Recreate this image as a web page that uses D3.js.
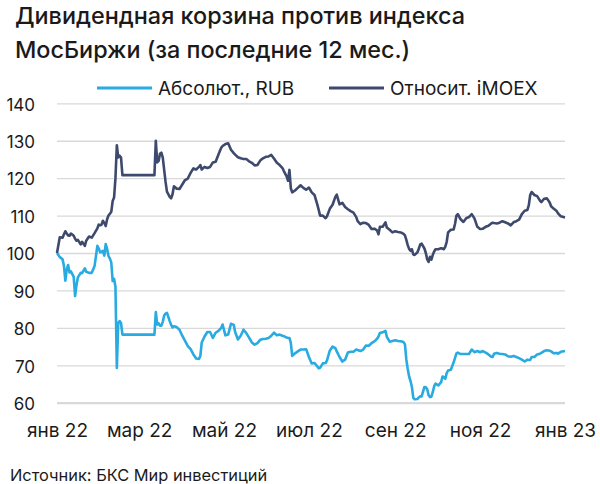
<!DOCTYPE html>
<html>
<head>
<meta charset="utf-8">
<script src="https://cdn.jsdelivr.net/npm/d3@7"></script>
<style>
  body { margin: 0; background: #fff; }
  text { font-family: Inter, Roboto, "Liberation Sans", Arial, sans-serif; fill: #1a1a1a; }
</style>
</head>
<body>
<div class="chart"></div>
<script>
// dates of the points, grouped by month
var dates = [
  "2022-01-10","2022-01-12","2022-01-14","2022-01-15","2022-01-16","2022-01-17","2022-01-18","2022-01-19","2022-01-20","2022-01-22","2022-01-23","2022-01-24","2022-01-25","2022-01-27","2022-01-28","2022-01-30","2022-01-31",
  "2022-02-02","2022-02-04","2022-02-06","2022-02-08","2022-02-09","2022-02-10","2022-02-11","2022-02-12","2022-02-13","2022-02-14","2022-02-15","2022-02-16","2022-02-17","2022-02-18","2022-02-19","2022-02-20","2022-02-21","2022-02-22","2022-02-23","2022-02-24","2022-02-25","2022-02-26",
  "2022-03-21","2022-03-22","2022-03-23","2022-03-24","2022-03-25","2022-03-26","2022-03-27","2022-03-28","2022-03-29","2022-03-30",
  "2022-04-01","2022-04-02","2022-04-03","2022-04-04","2022-04-06","2022-04-08","2022-04-10","2022-04-12","2022-04-14","2022-04-16","2022-04-18","2022-04-20","2022-04-22","2022-04-23","2022-04-24","2022-04-26","2022-04-28","2022-04-30",
  "2022-05-02","2022-05-04","2022-05-06","2022-05-08","2022-05-09","2022-05-11","2022-05-13","2022-05-15","2022-05-17","2022-05-18","2022-05-20","2022-05-22","2022-05-24","2022-05-26","2022-05-28","2022-05-30",
  "2022-06-01","2022-06-03","2022-06-05","2022-06-07","2022-06-09","2022-06-11","2022-06-13","2022-06-15","2022-06-17","2022-06-19","2022-06-21","2022-06-22","2022-06-24","2022-06-25","2022-06-26","2022-06-27","2022-06-28","2022-06-30",
  "2022-07-02","2022-07-04","2022-07-06","2022-07-08","2022-07-10","2022-07-12","2022-07-14","2022-07-16","2022-07-17","2022-07-18","2022-07-20","2022-07-22","2022-07-23","2022-07-25","2022-07-27","2022-07-29","2022-07-30",
  "2022-08-01","2022-08-03","2022-08-05","2022-08-07","2022-08-09","2022-08-11","2022-08-13","2022-08-14","2022-08-16","2022-08-18","2022-08-20","2022-08-22","2022-08-24","2022-08-26","2022-08-27","2022-08-28","2022-08-29","2022-08-30",
  "2022-09-01","2022-09-03","2022-09-04","2022-09-06","2022-09-08","2022-09-10","2022-09-12","2022-09-14","2022-09-16","2022-09-17","2022-09-18","2022-09-19","2022-09-20","2022-09-21","2022-09-22","2022-09-23","2022-09-24","2022-09-26","2022-09-27","2022-09-28","2022-09-29",
  "2022-10-01","2022-10-02","2022-10-03","2022-10-04","2022-10-05","2022-10-06","2022-10-07","2022-10-08","2022-10-09","2022-10-11","2022-10-13","2022-10-14","2022-10-15","2022-10-16","2022-10-17","2022-10-18","2022-10-20","2022-10-22","2022-10-23","2022-10-24","2022-10-25","2022-10-27","2022-10-29","2022-10-31",
  "2022-11-02","2022-11-04","2022-11-06","2022-11-08","2022-11-10","2022-11-12","2022-11-14","2022-11-16","2022-11-18","2022-11-19","2022-11-20","2022-11-22","2022-11-24","2022-11-26","2022-11-28","2022-11-30",
  "2022-12-02","2022-12-04","2022-12-06","2022-12-08","2022-12-10","2022-12-12","2022-12-14","2022-12-15","2022-12-16","2022-12-17","2022-12-19","2022-12-21","2022-12-23","2022-12-24","2022-12-26","2022-12-28","2022-12-30","2022-12-31",
  "2023-01-02","2023-01-04","2023-01-05","2023-01-07","2023-01-10"
];

// "Абсолют., RUB"
var absValues = [
  100,98.9,98.3,96.5,92.6,95.6,96.8,94.8,95.1,93.6,88.5,91.4,93.5,94.7,94.6,95.9,95.0,
  94.7,94.7,96.5,101.9,101.2,100.2,100.3,100.6,99.3,102.4,101.1,99.2,98.5,97.5,92.5,93.1,91,69.3,81.3,81.8,81.3,78.2,
  78.2,84.2,80.9,81.2,80.6,80.6,81.6,83.3,83.8,84,
  81.8,80.8,80.1,80.4,80.2,79.5,77.9,76.5,75.1,74.3,72.9,71.8,71.7,72.5,76.1,77.7,78.9,78.9,
  77.3,78.7,79.2,80,80.9,78.0,78.2,81.1,80.8,78.9,76.9,77.9,79.5,78.6,77.4,76.1,
  75.5,75.9,76.8,77,77.1,77.3,77.9,78.7,78,78.2,77.9,77.8,77.4,77.3,77.3,76,72.5,73.2,
  73.7,74.2,74.2,74.3,72.2,70.5,70.6,69.7,69.2,69.3,70.5,70.6,71.3,73.9,75,74.6,73.7,
  72.2,71,71.5,73.4,73.6,73.6,74.2,74.1,73.8,74.2,75.3,75.2,75.9,76.4,76.7,77.1,77.7,78.6,
  78.8,79.2,77.6,76.3,76.5,76.7,76.5,76.4,76.2,75.6,71.5,69,67,65.8,64.2,61.3,60.9,61,61.4,61.7,61.7,
  64.2,64.1,63.6,62,61.5,61.6,62.8,64.4,65.1,64.6,65.5,67,66.8,66.4,67.9,68.6,68.8,70.8,72,73.2,73.4,73,73,73,
  73,74.2,73.5,73.8,73.5,73.8,73.4,72.9,72.3,72.2,73.1,73.3,73.1,73,72.9,72.4,
  72.3,72.5,72.2,71.9,71.5,71,71.5,71.4,71.4,72.2,72.2,72.9,73.1,73.3,73.8,74,73.9,73.7,
  73.2,73.3,73.1,73.6,73.8
];

// "Относит. iMOEX"
var relValues = [
  100,104.2,104.1,105,105.8,105.2,104.7,104.6,105.2,104.6,103.8,103.3,103.5,102.3,103,101.9,103.3,
  104.4,104.1,105.3,106.6,107.6,107.4,107.6,108.6,108,107.2,109,110,110.5,111,113.9,114.8,120,128.8,125.5,126,125.5,120.8,
  120.8,130,124.2,124.6,126.5,126.8,125.5,122.2,119,116.4,
  115.0,114.6,115.7,117.8,117.2,117.1,118.3,119.5,119.9,121.4,122.6,122.3,123,123.5,122.3,123,122.7,123,
  124.2,124.4,126.3,128.1,128.6,129.1,129.3,127.6,126.7,126.3,125.6,125.3,125.1,125.1,124.5,124.1,
  123.4,123.5,124.7,125.3,125.7,125.8,126.2,125.2,124.1,123.5,122.7,121.9,120.5,119.3,122.2,117.3,116.2,116.7,
  117.4,118.1,117.4,116.9,117.5,116.2,115.5,113,111.6,110,110,109.3,109.8,111.8,112.9,115,115.6,
  113,113.4,112.3,111.7,111.2,110.8,109.6,108.5,107.7,108.1,108,107.5,106.4,106.5,106.3,106,105,107,
  107,108.2,106.8,106.2,105.5,105.8,105.6,105.5,105.1,104.7,103.5,102.1,101.1,100.6,101,99.6,99.5,100.2,101.2,102.3,102.5,
  101.2,100,98.3,97.6,99,98.2,99.5,100.4,101,101,101.3,101.2,101,101.7,103,105.5,106.2,106.3,107.8,110,110.4,109,108.3,109.3,
  109.6,110.4,109.2,107,106.4,106.5,107,107.3,107.9,108.1,108,107.9,108.1,108.5,108.2,107.9,
  107.4,108.2,108.5,108.9,110.4,111.3,111.5,112.8,115.5,116.3,115.5,115.2,114,113.6,114.5,114.6,113.5,112.5,
  111.8,111.2,110.6,109.8,109.5
];

var yTicks = [60, 70, 80, 90, 100, 110, 120, 130, 140];
var xTickDates = ["2022-01-10","2022-03-10","2022-05-10","2022-07-10","2022-09-10","2022-11-10","2023-01-10"];
var xTickLabels = ["янв 22","мар 22","май 22","июл 22","сен 22","ноя 22","янв 23"];

var seriesNames = ["Абсолют., RUB", "Относит. iMOEX"];
var seriesColors = ["#29abe2", "#3e4a6d"];

var svgWidth = 600;
var svgHeight = 484;

var margin = { top: 103.3, right: 35, bottom: 81.3, left: 57 };
var width = svgWidth - margin.left - margin.right;
var height = svgHeight - margin.top - margin.bottom;

var parseDate = d3.timeParse("%Y-%m-%d");

var svg = d3.select(".chart")
  .append("svg")
  .attr("width", svgWidth)
  .attr("height", svgHeight);

// title
var title = svg.append("g");
title.append("text").attr("x", 15).attr("y", 24)
  .style("font-size", "23.4px").style("font-weight", 500)
  .text("Дивидендная корзина против индекса");
title.append("text").attr("x", 15).attr("y", 57.5)
  .style("font-size", "23.4px").style("font-weight", 500)
  .text("МосБиржи (за последние 12 мес.)");

var chartGroup = svg.append("g")
  .attr("transform", `translate(${margin.left}, ${margin.top})`);

var xScale = d3.scaleTime()
  .domain([parseDate("2022-01-10"), parseDate("2023-01-10")])
  .range([0, width]);

var yScale = d3.scaleLinear()
  .domain([60, 140])
  .range([height, 0]);

// gridlines
var grid = chartGroup.append("g")
  .call(d3.axisLeft(yScale).tickValues(yTicks).tickSize(-width).tickFormat(""));
grid.select(".domain").remove();
grid.selectAll(".tick line")
  .attr("stroke", "#d9d9d9")
  .attr("stroke-width", d => d === 60 ? 2.2 : 1.3);

// y labels
var yAxis = chartGroup.append("g")
  .call(d3.axisLeft(yScale).tickValues(yTicks).tickSize(0).tickPadding(22));
yAxis.select(".domain").remove();
yAxis.selectAll("text")
  .attr("dy", "0.4em")
  .style("font-size", "17px")
  .style("fill", "#1a1a1a");

// x labels
var xAxis = chartGroup.append("g")
  .attr("transform", `translate(0, ${height})`)
  .call(d3.axisBottom(xScale)
    .tickValues(xTickDates.map(parseDate))
    .tickSize(0)
    .tickPadding(21)
    .tickFormat((d, i) => xTickLabels[i]));
xAxis.select(".domain").remove();
xAxis.selectAll("text")
  .style("font-size", "19px")
  .style("fill", "#1a1a1a");

// lines
var line = d3.line()
  .x(d => xScale(d.date))
  .y(d => yScale(d.value));

[absValues, relValues].forEach(function(values, k) {
  var pts = dates.map((s, i) => ({ date: parseDate(s), value: values[i] }));
  chartGroup.append("path")
    .datum(pts)
    .attr("fill", "none")
    .attr("stroke", seriesColors[k])
    .attr("stroke-width", 2.6)
    .attr("stroke-linejoin", "round")
    .attr("d", line);
});

// legend
var legendX = [97, 329];
seriesNames.forEach(function(name, k) {
  var g = svg.append("g").attr("transform", `translate(${legendX[k]}, 88)`);
  g.append("line")
    .attr("x1", 0).attr("x2", 55)
    .attr("stroke", seriesColors[k])
    .attr("stroke-width", 3);
  g.append("text")
    .attr("x", 61).attr("y", 6.8)
    .style("font-size", "19px")
    .text(name);
});

// source
svg.append("text")
  .attr("x", 10).attr("y", 481)
  .style("font-size", "16.4px")
  .text("Источник: БКС Мир инвестиций");
</script>
</body>
</html>
